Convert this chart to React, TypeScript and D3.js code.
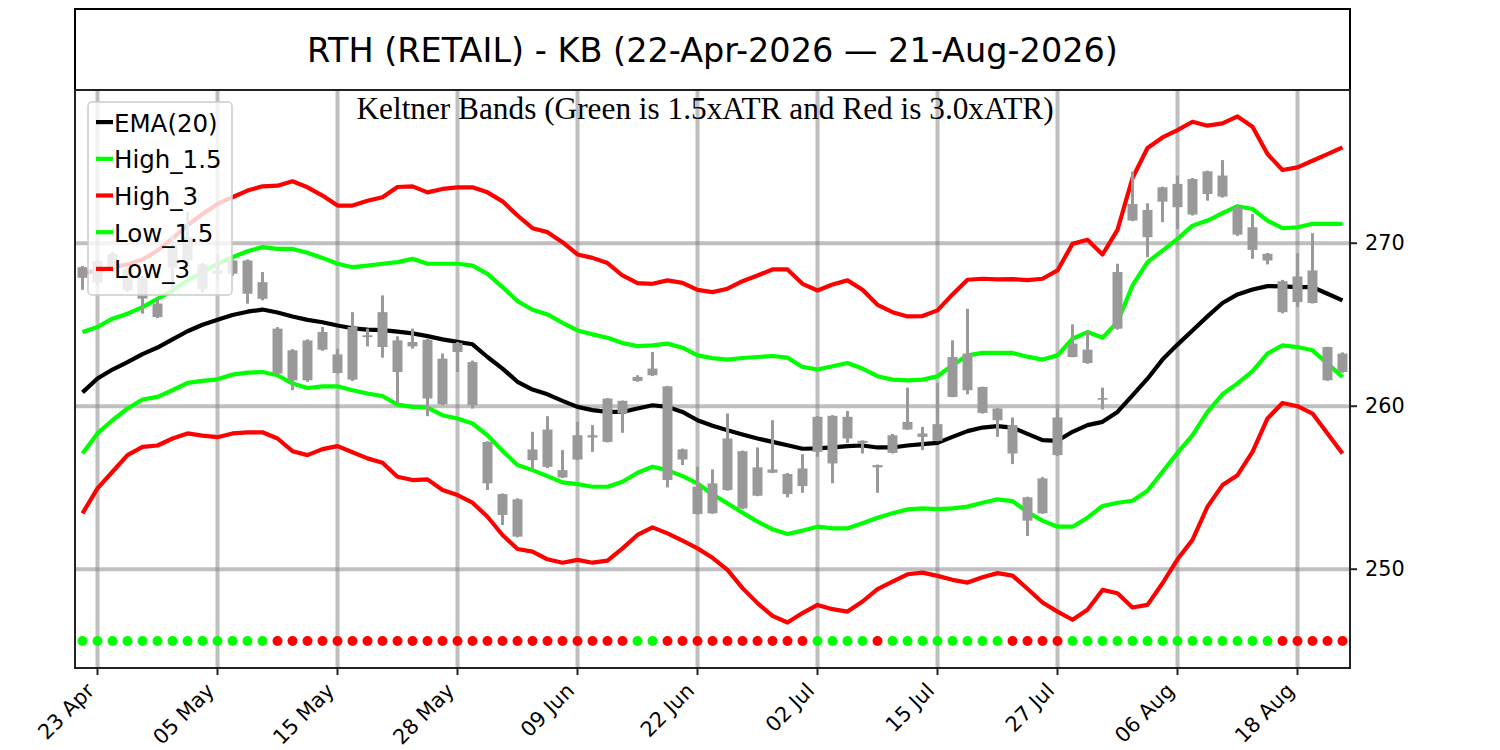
import React from "react";
import * as d3 from "d3";

// ---- Data ----
const titleText = "RTH (RETAIL) - KB (22-Apr-2026 \u2014 21-Aug-2026)";
const subtitleText = "Keltner Bands (Green is 1.5xATR and Red is 3.0xATR)";

const tickIndex = [1, 9, 17, 25, 33, 41, 49, 57, 65, 73, 81];
const tickLabels = ["23 Apr", "05 May", "15 May", "28 May", "09 Jun", "22 Jun", "02 Jul", "15 Jul", "27 Jul", "06 Aug", "18 Aug"];
const yTicks = [250, 260, 270];

const openP = [
  267.88, 267.6, 269.35, 268.4, 267.9, 265.47, 268.5, 270.37, 267.2, 268.13,
  268.94, 268.94, 267.61, 264.76, 261.59, 261.59, 264.55, 262.04, 261.63, 264.24,
  265.77, 262.1, 263.94, 264.08, 260.12, 263.88, 262.71, 257.81, 254.61, 252.0,
  256.69, 258.57, 255.63, 256.73, 258.08, 257.81, 259.55, 261.55, 262.31, 261.22,
  257.35, 253.39, 253.43, 258.02, 257.24, 254.51, 256.12, 254.61, 255.1, 257.2,
  256.49, 259.35, 257.88, 256.25, 257.14, 259.04, 258.12, 257.88, 260.57, 263.23,
  261.18, 259.86, 258.84, 252.98, 253.43, 257.0, 263.84, 263.47, 260.4, 264.76,
  272.41, 270.37, 273.43, 273.64, 271.76, 274.41, 274.15, 272.17, 270.98, 269.35,
  265.77, 266.39, 268.33, 261.59, 263.23,
];
const closeP = [
  268.53, 268.9, 268.4, 267.1, 266.6, 266.3, 269.8, 268.94, 268.7, 268.33,
  268.13, 266.9, 266.59, 262.0, 263.43, 264.04, 263.47, 263.18, 264.86, 264.35,
  263.63, 264.04, 263.67, 260.47, 262.92, 263.33, 260.06, 255.27, 253.33, 254.29,
  257.35, 256.28, 256.08, 258.22, 258.22, 260.47, 260.33, 261.8, 261.9, 255.47,
  256.73, 255.06, 255.27, 254.86, 253.73, 256.25, 255.92, 255.84, 256.18, 259.35,
  259.41, 258.02, 257.75, 256.39, 258.22, 258.57, 258.33, 258.9, 263.02, 260.98,
  259.59, 259.14, 257.1, 254.41, 255.57, 259.31, 263.02, 262.65, 260.5, 268.23,
  271.39, 272.04, 272.55, 272.21, 273.94, 273.02, 272.86, 270.53, 269.59, 268.94,
  267.67, 267.96, 266.33, 263.63, 262.1,
];
const highP = [
  268.6, 269.0, 269.45, 268.5, 268.0, 266.6, 270.5, 271.9, 268.8, 269.35,
  269.0, 269.0, 268.23, 264.85, 263.5, 264.1, 264.86, 263.53, 265.77, 264.76,
  266.8, 264.29, 264.76, 264.14, 263.23, 263.94, 262.8, 257.85, 254.65, 254.35,
  258.43, 259.39, 257.31, 259.04, 258.84, 260.5, 260.35, 261.9, 263.33, 261.25,
  257.4, 256.29, 256.12, 259.55, 257.28, 257.47, 259.14, 255.9, 257.06, 259.4,
  259.45, 259.71, 257.9, 256.42, 258.3, 261.14, 258.73, 261.43, 264.04, 265.98,
  261.2, 259.9, 259.31, 254.45, 255.65, 259.86, 265.02, 264.61, 261.14, 268.74,
  274.39, 272.45, 273.47, 274.15, 274.0, 274.45, 275.1, 272.27, 271.8, 269.4,
  267.75, 269.39, 270.61, 263.65, 263.3,
];
const lowP = [
  267.14, 267.5, 268.3, 267.0, 265.68, 265.4, 266.9, 268.6, 267.0, 267.7,
  268.0, 266.29, 266.5, 261.95, 260.98, 261.5, 263.4, 262.0, 261.55, 263.67,
  262.98, 260.16, 263.53, 259.39, 260.05, 262.1, 259.86, 254.86, 252.71, 251.95,
  256.08, 256.2, 255.6, 256.7, 257.2, 257.78, 258.37, 261.5, 261.85, 255.02,
  256.39, 253.35, 253.4, 254.82, 253.7, 254.48, 255.9, 254.41, 254.69, 256.9,
  255.27, 257.75, 257.1, 254.69, 257.1, 258.55, 257.31, 257.85, 260.55, 260.73,
  259.55, 258.12, 256.45, 252.04, 253.4, 256.95, 263.0, 262.6, 259.8, 264.7,
  271.35, 269.14, 271.29, 270.88, 271.7, 272.61, 272.8, 270.45, 269.04, 268.7,
  265.7, 266.08, 266.3, 261.55, 262.05,
];

const ema20 = [
  260.85, 261.7, 262.25, 262.7, 263.2, 263.6, 264.1, 264.6, 265.0, 265.3,
  265.6, 265.8, 265.93, 265.75, 265.5, 265.3, 265.15, 264.95, 264.78, 264.7,
  264.67, 264.58, 264.47, 264.3, 264.1, 263.95, 263.8, 263.02, 262.31, 261.5,
  261.02, 260.73, 260.33, 259.96, 259.76, 259.65, 259.65, 259.86, 260.06, 259.96,
  259.65, 259.14, 258.8, 258.53, 258.27, 258.02, 257.81, 257.61, 257.39, 257.41,
  257.47, 257.55, 257.59, 257.47, 257.47, 257.59, 257.67, 257.75, 258.12, 258.47,
  258.69, 258.78, 258.69, 258.3, 257.92, 257.88, 258.43, 258.84, 259.04, 259.65,
  260.67, 261.69, 262.86, 263.78, 264.65, 265.51, 266.33, 266.86, 267.16, 267.37,
  267.35, 267.31, 267.31, 266.9, 266.49,
];
const high15 = [
  264.55, 264.86, 265.37, 265.68, 266.08, 266.59, 267.1, 267.72, 268.23, 268.74,
  269.14, 269.51, 269.76, 269.65, 269.65, 269.41, 269.1, 268.74, 268.53, 268.63,
  268.74, 268.84, 269.04, 268.74, 268.74, 268.74, 268.63, 268.12, 267.31, 266.45,
  265.92, 265.63, 265.12, 264.65, 264.41, 264.2, 263.88, 263.69, 263.73, 263.84,
  263.59, 263.12, 262.95, 262.86, 262.96, 263.02, 263.08, 262.98, 262.41, 262.25,
  262.45, 262.65, 262.31, 261.84, 261.63, 261.59, 261.63, 261.84, 262.51, 263.12,
  263.27, 263.27, 263.27, 263.04, 262.86, 263.12, 264.14, 264.55, 264.2, 265.16,
  267.41, 268.84, 269.55, 270.27, 271.08, 271.39, 271.84, 272.27, 272.1, 271.39,
  270.92, 270.98, 271.19, 271.19, 271.19,
];
const high3 = [
  268.2, 268.3, 268.53, 268.7, 269.0, 269.55, 270.3, 271.1, 271.8, 272.41,
  272.82, 273.23, 273.49, 273.53, 273.8, 273.43, 272.92, 272.31, 272.31, 272.61,
  272.82, 273.45, 273.49, 273.12, 273.33, 273.43, 273.43, 273.12, 272.57, 271.7,
  270.92, 270.68, 270.06, 269.31, 269.1, 268.78, 268.02, 267.55, 267.51, 267.72,
  267.57, 267.14, 267.0, 267.21, 267.67, 268.02, 268.39, 268.39, 267.51, 267.1,
  267.47, 267.72, 267.14, 266.22, 265.77, 265.51, 265.53, 265.88, 266.86, 267.76,
  267.82, 267.78, 267.8, 267.74, 267.82, 268.33, 269.96, 270.21, 269.31, 270.82,
  274.0, 275.84, 276.49, 276.94, 277.45, 277.21, 277.35, 277.78, 277.15, 275.47,
  274.49, 274.65, 275.06, 275.47, 275.88,
];
const low15 = [
  257.1, 258.33, 259.14, 259.86, 260.41, 260.57, 260.98, 261.43, 261.55, 261.65,
  261.94, 262.06, 262.1, 261.9, 261.39, 261.12, 261.22, 261.22, 260.98, 260.78,
  260.63, 260.1, 259.96, 259.92, 259.45, 259.25, 258.94, 258.22, 257.26, 256.39,
  256.08, 255.71, 255.33, 255.22, 255.06, 255.06, 255.37, 255.92, 256.29, 256.08,
  255.71, 255.26, 254.6, 254.04, 253.47, 252.92, 252.45, 252.16, 252.37, 252.61,
  252.51, 252.51, 252.82, 253.16, 253.43, 253.67, 253.73, 253.69, 253.73, 253.84,
  254.08, 254.29, 254.18, 253.5, 252.98, 252.61, 252.61, 253.16, 253.88, 254.08,
  254.2, 254.81, 255.98, 257.14, 258.22, 259.65, 260.73, 261.4, 262.16, 263.23,
  263.73, 263.63, 263.43, 262.61, 261.8,
];
const low3 = [
  253.43, 254.96, 255.98, 257.0, 257.51, 257.59, 258.02, 258.33, 258.2, 258.1,
  258.33, 258.4, 258.4, 258.02, 257.24, 257.0, 257.37, 257.55, 257.18, 256.8,
  256.53, 255.67, 255.47, 255.51, 254.86, 254.55, 254.08, 253.22, 252.1, 251.24,
  251.08, 250.61, 250.4, 250.57, 250.4, 250.53, 251.28, 252.1, 252.57, 252.2,
  251.75, 251.28, 250.7, 249.96, 248.84, 247.92, 247.14, 246.73, 247.31, 247.81,
  247.55, 247.4, 248.02, 248.78, 249.24, 249.69, 249.79, 249.59, 249.35, 249.18,
  249.51, 249.76, 249.61, 248.8, 247.96, 247.4, 246.9, 247.51, 248.73, 248.53,
  247.65, 247.81, 249.14, 250.61, 251.8, 253.84, 255.16, 255.77, 257.2, 259.25,
  260.2, 260.0, 259.55, 258.33, 257.1,
];
// 1 = green dot, 0 = red dot
const signal = [
  1, 1, 1, 1, 1, 1, 1, 1, 1, 1, 1, 1, 1, 0, 0, 0, 0, 0, 0, 0,
  0, 0, 0, 0, 0, 0, 0, 0, 0, 0, 0, 0, 0, 0, 0, 0, 0, 1, 1, 0,
  0, 0, 0, 0, 0, 0, 0, 0, 0, 1, 1, 1, 1, 0, 1, 1, 1, 1, 1, 1,
  1, 1, 0, 0, 0, 0, 1, 1, 1, 1, 1, 1, 1, 1, 1, 1, 1, 1, 1, 1,
  0, 0, 0, 0, 0,
];
const dotLevel = 245.6;

const seriesDefs = [
  { name: "EMA(20)", values: ema20, color: "#000000" },
  { name: "High_1.5", values: high15, color: "#00ff00" },
  { name: "High_3", values: high3, color: "#ff0000" },
  { name: "Low_1.5", values: low15, color: "#00ff00" },
  { name: "Low_3", values: low3, color: "#ff0000" },
];

export default function App() {
  const W = 1500, H = 750;
  const left = 75, right = 1350, top = 90, bottom = 668;
  const n = ema20.length;
  const x = d3.scaleLinear().domain([-0.5, n - 0.5]).range([left, right]);
  const y = d3.scaleLinear().domain([243.94, 279.4]).range([bottom, top]);
  const line = d3.line<number>().x((_, i) => x(i)).y((v) => y(v));
  const sans = "'DejaVu Sans', sans-serif";
  const bodyW = 10;
  const tickFont = 20.8;

  const legendY0 = 131.5;
  const legendStep = 36.7;

  return (
    <svg width={W} height={H} style={{ position: "absolute", left: 0, top: 0, background: "#fff" }}>
      <defs>
        <clipPath id="plotClip">
          <rect x={left} y={top} width={right - left} height={bottom - top} />
        </clipPath>
      </defs>
      <rect x={0} y={0} width={W} height={H} fill="#fff" />
      {/* title box */}
      <rect x={left} y={9} width={right - left} height={top - 9} fill="none" stroke="#000" strokeWidth={2} />
      <text x={(left + right) / 2} y={61.5} textAnchor="middle" fontFamily={sans} fontSize={33.5} fill="#000">
        {titleText}
      </text>

      {/* grid */}
      <g stroke="#808080" strokeOpacity={0.5} strokeWidth={4}>
        {tickIndex.map((t) => (
          <line key={"gx" + t} x1={x(t)} x2={x(t)} y1={top} y2={bottom} />
        ))}
        {yTicks.map((t) => (
          <line key={"gy" + t} x1={left} x2={right} y1={y(t)} y2={y(t)} />
        ))}
      </g>

      <g clipPath="url(#plotClip)">
        {seriesDefs.map((s) => (
          <path key={s.name} d={line(s.values) || ""} fill="none" stroke={s.color} strokeWidth={4.2} strokeLinejoin="round" />
        ))}
        {/* candles */}
        <g fill="#999999" stroke="none">
          {openP.map((o, i) => {
            const c = closeP[i];
            const yt = y(Math.max(o, c));
            const yb = y(Math.min(o, c));
            return (
              <g key={"c" + i}>
                <rect x={x(i) - 1.5} y={y(highP[i])} width={3} height={y(lowP[i]) - y(highP[i])} />
                <rect x={x(i) - bodyW / 2} y={yt} width={bodyW} height={Math.max(1.5, yb - yt)} />
              </g>
            );
          })}
        </g>
        {/* signal dots */}
        {signal.map((s, i) => (
          <circle key={"d" + i} cx={x(i)} cy={y(dotLevel)} r={5} fill={s ? "#00ff00" : "#ff0000"} />
        ))}
      </g>

      <text x={705} y={119.3} textAnchor="middle" fontFamily="'Liberation Serif', 'Times New Roman', serif" fontSize={31.3} fill="#000">
        {subtitleText}
      </text>

      {/* spines */}
      <rect x={left} y={top} width={right - left} height={bottom - top} fill="none" stroke="#222" strokeWidth={2} />

      {/* y axis (right) */}
      {yTicks.map((t) => (
        <g key={"yt" + t}>
          <line x1={right} x2={right + 7} y1={y(t)} y2={y(t)} stroke="#222" strokeWidth={2} />
          <text x={right + 15} y={y(t)} dominantBaseline="central" fontFamily={sans} fontSize={tickFont} fill="#000">
            {t}
          </text>
        </g>
      ))}

      {/* x axis */}
      {tickIndex.map((t, k) => (
        <g key={"xt" + t}>
          <line x1={x(t)} x2={x(t)} y1={bottom} y2={bottom + 7} stroke="#222" strokeWidth={2} />
          <text
            transform={`translate(${x(t) - 2},${692}) rotate(-45)`}
            textAnchor="end"
            fontFamily={sans}
            fontSize={tickFont}
            fill="#000"
          >
            {tickLabels[k]}
          </text>
        </g>
      ))}

      {/* legend */}
      <g>
        <rect x={88} y={102} width={144} height={193} rx={4} fill="#fff" fillOpacity={0.8} stroke="#cccccc" strokeWidth={1.5} />
        {seriesDefs.map((s, k) => {
          const by = legendY0 + k * legendStep;
          return (
            <g key={"lg" + s.name}>
              <line x1={96} x2={113} y1={by - 9.4} y2={by - 9.4} stroke={s.color} strokeWidth={4.2} />
              <text x={114} y={by} fontFamily={sans} fontSize={24.5} fill="#000">
                {s.name}
              </text>
            </g>
          );
        })}
      </g>
    </svg>
  );
}
